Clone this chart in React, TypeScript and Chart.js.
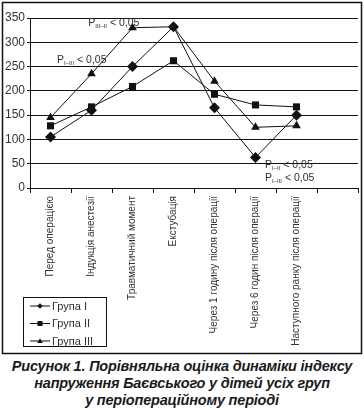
import React, { useEffect, useRef } from "react";
import { Chart, registerables } from "chart.js";

Chart.register(...registerables);

const categories = [
  "Перед операцією",
  "Індукція анестезії",
  "Травматичний момент",
  "Екстубація",
  "Через 1 годину після операції",
  "Через 6 годин після операції",
  "Наступного ранку після операції",
  "",
];

const seriesNames = ["Група I", "Група II", "Група III"];
const group1 = [105, 160, 250, 332, 165, 63, 150];
const group2 = [128, 167, 209, 262, 193, 171, 167];
const group3 = [145, 235, 330, 332, 220, 125, 128];
const pointStyles = ["rectRot", "rect", "triangle"];
const pointRadii = [5.5, 5, 5];

const yTicks = { min: 0, max: 350, step: 50 };

// statistical notes: text, subscript, anchored at (category index, value)
const notes = [
  { sub: "III–II", text: "< 0,05", at: 0.92, val: 334 },
  { sub: "I–III", text: "< 0,05", at: 0.16, val: 258 },
  { sub: "I–II", text: "< 0,05", at: 5.23, val: 41 },
  { sub: "I–III", text: "< 0,05", at: 5.23, val: 14 },
];

const captionLines = [
  "Рисунок 1. Порівняльна оцінка динаміки індексу",
  "напруження Баєвського у дітей усіх груп",
  "у періопераційному періоді",
];

const FONT = "'Liberation Sans', Arial, sans-serif";

export default function App() {
  const ref = useRef<HTMLCanvasElement | null>(null);

  useEffect(() => {
    if (!ref.current) return;
    const seriesData = [group1, group2, group3];

    function drawMarker(ctx: CanvasRenderingContext2D, style: string, x: number, y: number, r: number) {
      ctx.beginPath();
      if (style === "rectRot") {
        ctx.moveTo(x, y - r);
        ctx.lineTo(x + r, y);
        ctx.lineTo(x, y + r);
        ctx.lineTo(x - r, y);
      } else if (style === "rect") {
        ctx.rect(x - r * 0.9, y - r * 0.9, r * 1.8, r * 1.8);
      } else {
        ctx.moveTo(x, y - r);
        ctx.lineTo(x + r, y + r * 0.7);
        ctx.lineTo(x - r, y + r * 0.7);
      }
      ctx.closePath();
      ctx.fill();
    }

    const framePlugin = {
      id: "frameAndNotes",
      afterDraw(chart: any) {
        const ctx = chart.ctx;
        const xs = chart.scales.x;
        const ys = chart.scales.y;
        ctx.save();
        // outer frame
        ctx.strokeStyle = "#111";
        ctx.lineWidth = 1.5;
        ctx.strokeRect(2.5, 2.5, 359, 351);

        // notes
        ctx.fillStyle = "#2e2e3a";
        ctx.textBaseline = "alphabetic";
        ctx.textAlign = "left";
        for (const n of notes) {
          let x = xs.getPixelForValue(n.at);
          const y = ys.getPixelForValue(n.val);
          ctx.font = `10.5px ${FONT}`;
          ctx.fillText("P", x, y);
          x += ctx.measureText("P").width;
          ctx.font = `6px ${FONT}`;
          ctx.fillText(n.sub, x, y + 2);
          x += ctx.measureText(n.sub).width + 3;
          ctx.font = `10.5px ${FONT}`;
          ctx.fillText(n.text, x, y);
        }

        // legend box
        const lx = 23.5, ly = 297.5, lw = 83, lh = 49;
        ctx.fillStyle = "#fff";
        ctx.fillRect(lx, ly, lw, lh);
        ctx.strokeStyle = "#111";
        ctx.lineWidth = 1;
        ctx.strokeRect(lx, ly, lw, lh);
        ctx.font = `11px ${FONT}`;
        ctx.textBaseline = "middle";
        seriesNames.forEach((name, i) => {
          const cy = 306 + i * 17.5;
          ctx.strokeStyle = "#111";
          ctx.lineWidth = 1;
          ctx.beginPath();
          ctx.moveTo(30, cy);
          ctx.lineTo(50, cy);
          ctx.stroke();
          ctx.fillStyle = "#111";
          drawMarker(ctx, pointStyles[i], 40, cy, 2.8);
          ctx.fillStyle = "#2e2e3a";
          ctx.fillText(name, 52, cy + 0.5);
        });
        ctx.restore();
      },
    };

    const chart = new Chart(ref.current, {
      type: "line",
      data: {
        labels: categories,
        datasets: seriesData.map((d, i) => ({
          label: seriesNames[i],
          data: d,
          borderColor: "#111",
          backgroundColor: "#111",
          borderWidth: 1,
          pointStyle: pointStyles[i] as any,
          pointRadius: pointRadii[i],
          pointBackgroundColor: "#111",
          pointBorderColor: "#111",
          pointBorderWidth: 0,
          tension: 0,
        })),
      },
      options: {
        animation: false,
        responsive: false,
        devicePixelRatio: 1,
        layout: { padding: { top: 18, right: 6, left: 0, bottom: 0 } },
        plugins: {
          legend: { display: false },
          tooltip: { enabled: false },
          title: { display: false },
        },
        scales: {
          x: {
            type: "category",
            offset: true,
            grid: {
              offset: true,
              drawOnChartArea: false,
              drawTicks: true,
              tickLength: 5,
              color: "#111",
            },
            border: { display: true, color: "#111", width: 1 },
            ticks: {
              autoSkip: false,
              minRotation: 90,
              maxRotation: 90,
              padding: 3,
              color: "#333",
              font: { family: FONT, size: 10 },
            },
            afterFit(scale: any) {
              scale.height = 168;
            },
          },
          y: {
            min: yTicks.min,
            max: yTicks.max,
            ticks: {
              stepSize: yTicks.step,
              color: "#333",
              padding: 2,
              font: { family: FONT, size: 12 },
            },
            grid: { color: "#111", lineWidth: 1, tickLength: 3 },
            border: { display: true, color: "#111", width: 1 },
            afterFit(scale: any) {
              scale.width = 30;
            },
          },
        },
      },
      plugins: [framePlugin],
    });
    return () => chart.destroy();
  }, []);

  return (
    <div style={{ position: "absolute", left: 0, top: 0, width: 364, height: 410, background: "#fff" }}>
      <canvas ref={ref} width={364} height={356} style={{ display: "block", width: 364, height: 356 }} />
      <div
        style={{
          position: "absolute",
          left: 0,
          top: 358,
          width: 364,
          textAlign: "center",
          fontFamily: FONT,
          fontWeight: "bold",
          fontStyle: "italic",
          fontSize: 14.5,
          lineHeight: "17px",
          color: "#1a1a22",
          letterSpacing: "-0.2px",
        }}
      >
        {captionLines.map((l, i) => (
          <div key={i}>{l}</div>
        ))}
      </div>
    </div>
  );
}
